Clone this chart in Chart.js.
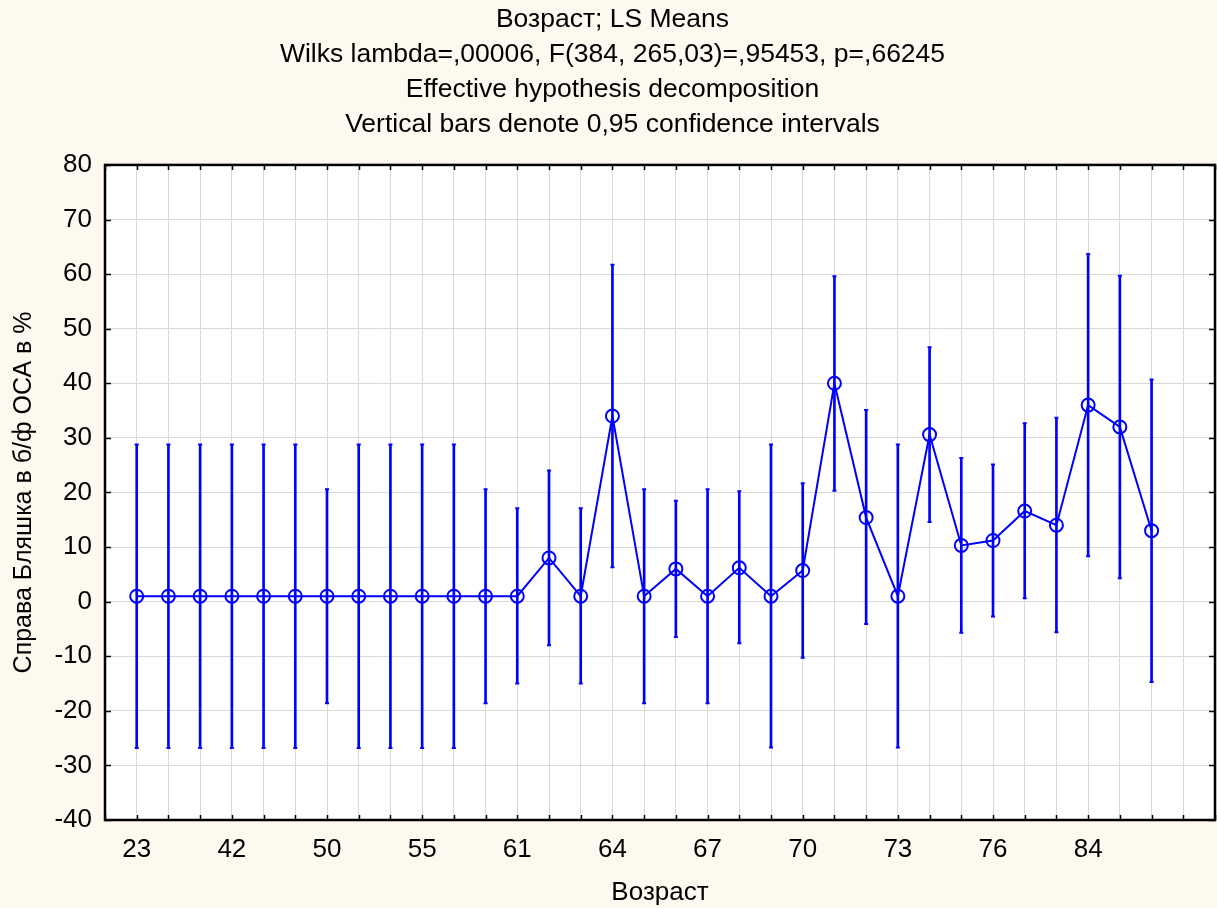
<!DOCTYPE html>
<html>
<head>
<meta charset="utf-8">
<script src="https://cdn.jsdelivr.net/npm/chart.js@4/dist/chart.umd.min.js"></script>
<style>
  html, body { margin: 0; padding: 0; background: #fef9ee; }
  canvas { display: block; }
</style>
</head>
<body>
<canvas id="c" width="1217" height="908"></canvas>
<script>
// age groups (only every third one is labelled on the axis)
const ageLabels = ['23', '', '', '42', '', '', '50', '', '', '55', '', '', '61', '', '', '64', '', '',
                   '67', '', '', '70', '', '', '73', '', '', '76', '', '', '84', '', ''];

// LS means and 0,95 confidence limits
const means = [1, 1, 1, 1, 1, 1, 1, 1, 1, 1, 1, 1, 1, 8.0, 1, 34.0, 1, 6.0, 1, 6.2, 1, 5.7,
               40.0, 15.4, 1, 30.6, 10.3, 11.2, 16.6, 14.0, 36.0, 32.0, 13.0];
const lowerCI = [-26.8, -26.8, -26.8, -26.8, -26.8, -26.8, -18.6, -26.8, -26.8, -26.8, -26.8, -18.6,
                 -15.0, -8.0, -15.0, 6.3, -18.6, -6.5, -18.6, -7.6, -26.7, -10.3, 20.3, -4.1, -26.7,
                 14.6, -5.7, -2.7, 0.6, -5.6, 8.3, 4.3, -14.7];
const upperCI = [28.8, 28.8, 28.8, 28.8, 28.8, 28.8, 20.6, 28.8, 28.8, 28.8, 28.8, 20.6,
                 17.1, 24.0, 17.1, 61.7, 20.6, 18.5, 20.6, 20.2, 28.8, 21.7, 59.6, 35.1, 28.8,
                 46.6, 26.3, 25.1, 32.7, 33.7, 63.7, 59.7, 40.7];

const titleLines = [
  'Возраст; LS Means',
  'Wilks lambda=,00006, F(384, 265,03)=,95453, p=,66245',
  'Effective hypothesis decomposition',
  'Vertical bars denote 0,95 confidence intervals'
];

const FONT = '"Liberation Sans", Arial, sans-serif';
const BLUE = '#0000ff';

// white plot area, black frame with inward ticks on all sides, caps on error bars
const framePlugin = {
  id: 'frame',
  beforeDraw(chart) {
    const { ctx, chartArea: a } = chart;
    ctx.save();
    ctx.fillStyle = '#ffffff';
    ctx.fillRect(a.left, a.top, a.right - a.left, a.bottom - a.top);
    ctx.restore();
  },
  afterDatasetsDraw(chart) {
    const { ctx } = chart;
    const bars = chart.getDatasetMeta(1).data;
    ctx.save();
    ctx.strokeStyle = BLUE;
    ctx.lineWidth = 2;
    bars.forEach(b => {
      ctx.beginPath();
      ctx.moveTo(b.x - 2, b.y); ctx.lineTo(b.x + 2, b.y);
      ctx.moveTo(b.x - 2, b.base); ctx.lineTo(b.x + 2, b.base);
      ctx.stroke();
    });
    ctx.restore();
  },
  afterDraw(chart) {
    const { ctx, chartArea: a, scales } = chart;
    ctx.save();
    ctx.strokeStyle = '#000000';
    ctx.lineWidth = 1.5;
    ctx.beginPath();
    scales.x.ticks.forEach(t => {
      const px = Math.round(scales.x.getPixelForValue(t.value)) + 0.5;
      ctx.moveTo(px, a.bottom); ctx.lineTo(px, a.bottom - 5);
      ctx.moveTo(px, a.top); ctx.lineTo(px, a.top + 5);
    });
    scales.y.ticks.forEach(t => {
      const py = Math.round(scales.y.getPixelForValue(t.value)) + 0.5;
      ctx.moveTo(a.left, py); ctx.lineTo(a.left + 6, py);
      ctx.moveTo(a.right, py); ctx.lineTo(a.right - 6, py);
    });
    ctx.stroke();
    ctx.lineWidth = 2.5;
    ctx.strokeRect(a.left, a.top, a.right - a.left, a.bottom - a.top);
    ctx.restore();
  }
};

new Chart(document.getElementById('c'), {
  type: 'line',
  data: {
    datasets: [
      {
        type: 'line',
        data: means.map((m, i) => ({ x: i + 1, y: m })),
        borderColor: BLUE,
        borderWidth: 2,
        pointStyle: 'circle',
        pointRadius: 6.5,
        pointBorderWidth: 2,
        pointBorderColor: BLUE,
        pointBackgroundColor: 'rgba(0,0,0,0)',
        tension: 0,
        order: 0
      },
      {
        type: 'bar',
        data: lowerCI.map((lo, i) => ({ x: i + 1, y: [lo, upperCI[i]] })),
        backgroundColor: BLUE,
        borderWidth: 0,
        barThickness: 2,
        order: 1
      }
    ]
  },
  options: {
    responsive: false,
    animation: false,
    devicePixelRatio: 1,
    layout: { autoPadding: false, padding: { left: 10, right: 2, top: 0, bottom: 0 } },
    plugins: {
      legend: { display: false },
      tooltip: { enabled: false },
      title: {
        display: true,
        text: titleLines,
        color: '#000000',
        font: { family: FONT, size: 26.5, weight: 'normal', lineHeight: 1.32 },
        padding: { top: 2, bottom: 23 }
      }
    },
    scales: {
      x: {
        type: 'linear',
        min: 0,
        max: 35,
        offset: false,
        afterFit: s => { s.height = 88; s.paddingLeft = 0; s.paddingRight = 0; },
        grid: { color: '#d9d9d9', lineWidth: 1, drawTicks: true, tickLength: 14, tickColor: 'rgba(0,0,0,0)', offset: false },
        border: { display: false },
        ticks: {
          stepSize: 1,
          autoSkip: false,
          maxRotation: 0,
          padding: 0,
          color: '#000000',
          font: { family: FONT, size: 26 },
          callback: v => ageLabels[v - 1] || ''
        },
        title: {
          display: true,
          text: 'Возраст',
          color: '#000000',
          font: { family: FONT, size: 26 },
          padding: { top: 0, bottom: 0 }
        }
      },
      y: {
        min: -40,
        max: 80,
        afterFit: s => { s.width = 95; },
        grid: { color: '#d9d9d9', lineWidth: 1, drawTicks: false },
        border: { display: false },
        ticks: {
          stepSize: 10,
          padding: 13,
          color: '#000000',
          font: { family: FONT, size: 26 }
        },
        title: {
          display: true,
          text: 'Справа Бляшка в б/ф ОСА в %',
          color: '#000000',
          font: { family: FONT, size: 25, lineHeight: 1.1 },
          padding: { top: 0, bottom: 0 }
        }
      }
    }
  },
  plugins: [framePlugin]
});
</script>
</body>
</html>
